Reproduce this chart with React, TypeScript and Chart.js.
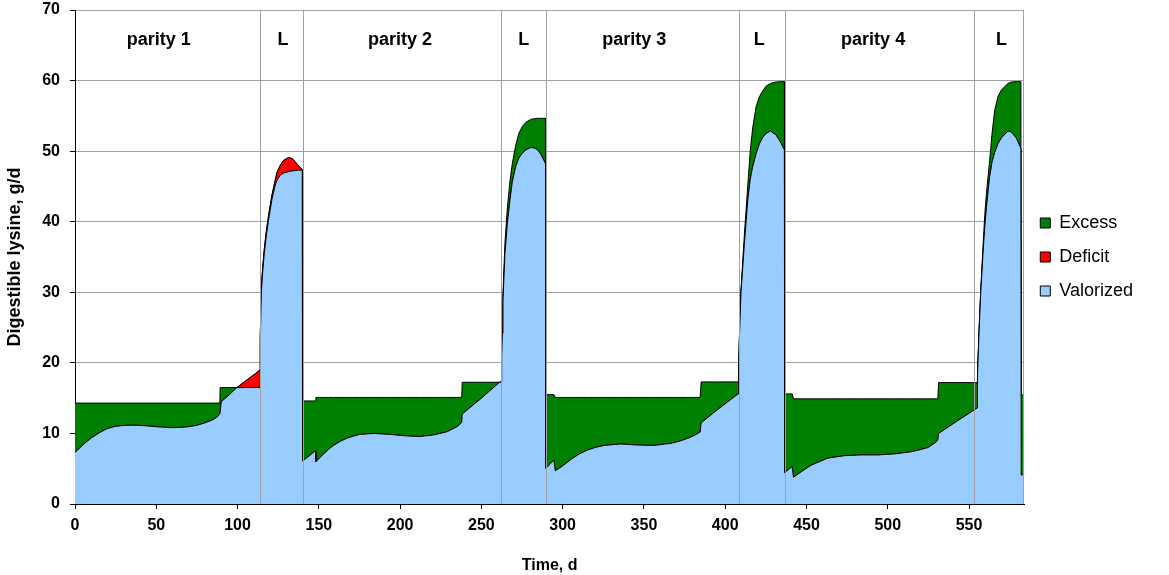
import React, { useEffect, useRef } from 'react';
import { Chart, registerables } from 'chart.js';

Chart.register(...registerables);

// Time axis (days) shared by all three stacked series
const days = [
  0, 5, 10, 15, 20, 25, 30, 35, 40, 45, 50, 55, 60, 65, 70, 75, 80, 85, 88, 89.1, 89.3, 90, 95, 99.6, 105, 110, 113.9,
  114.0, 114.6, 115.5, 116.5, 117.7, 119.1, 121.2, 123.2, 124.3, 126.3, 128.4, 131.4, 133.5, 135.5, 137.5, 139.8,
  140.0, 144.0, 147.9, 148.2, 150.5, 153, 156, 159, 163, 167, 171, 175, 184, 194, 204, 212, 221, 229, 235, 237.9, 238.2, 250, 261.2, 262.2,
  262.4, 262.6, 262.9, 263.3, 264.5, 266.0, 267.6, 269.0, 271.1, 273.0, 275.2, 277.5, 280.3, 282.5, 284.5, 286.5, 288.0, 289.5,
  289.7, 292, 294.6, 295.5, 300, 305, 310, 315.3, 320, 325.5, 335.8, 346, 356.3, 366.6, 372, 376.9, 381, 384.6, 385.2, 396, 407.9,
  408.2, 408.8, 409.7, 411.8, 413.9, 415.4, 416.9, 419.0, 421.0, 423.0, 425.1, 427.8, 431.3, 434.4, 436.4,
  436.6, 439, 441.2, 442.0, 447, 452.9, 458, 463.1, 473.4, 483.7, 494, 504.2, 514.5, 520, 524.8, 529.9, 530.8, 531.3, 543, 555.0,
  555.2, 556.2, 557.2, 558.6, 559.7, 560.7, 562.7, 564.2, 565.8, 567.9, 570.0, 574.0, 576.1, 579.2, 581.9,
  582.1, 584,
];

const valorized = [
  7.3, 8.4, 9.35, 10.1, 10.7, 11.0, 11.12, 11.17, 11.13, 11.05, 10.95, 10.87, 10.82, 10.85, 10.95, 11.15, 11.5, 11.95, 12.45, 12.8, 13.0, 14.5, 15.5, 16.5, 16.5, 16.5, 16.5,
  23.0, 29.9, 33.0, 35.6, 38.0, 40.3, 43.2, 45.2, 45.9, 46.6, 46.9, 47.1, 47.2, 47.25, 47.3, 47.3,
  6.1, 6.8, 7.55, 5.95, 6.55, 7.1, 7.75, 8.3, 8.85, 9.3, 9.6, 9.85, 10.0, 9.85, 9.65, 9.55, 9.8, 10.25, 10.95, 11.55, 12.75, 15.0, 17.25, 17.3,
  17.6, 21.0, 24.2, 28.9, 35.5, 39.8, 43.1, 45.6, 47.8, 49.0, 49.7, 50.2, 50.5, 50.45, 50.2, 49.6, 48.9, 48.2,
  5.05, 5.6, 6.2, 4.7, 5.4, 6.3, 7.05, 7.65, 8.0, 8.3, 8.5, 8.35, 8.3, 8.6, 8.9, 9.3, 9.7, 10.2, 11.5, 13.5, 15.6,
  17.5, 24.0, 29.9, 36.9, 43.1, 46.0, 47.8, 49.6, 51.0, 51.9, 52.5, 52.85, 52.3, 51.1, 50.2,
  4.45, 4.9, 5.3, 3.8, 4.6, 5.5, 6.0, 6.5, 6.85, 6.95, 6.95, 7.1, 7.4, 7.7, 8.0, 8.8, 9.1, 10.0, 11.8, 13.6,
  18.0, 24.5, 29.9, 35.5, 39.3, 42.0, 46.4, 48.5, 49.8, 51.1, 51.9, 52.85, 52.7, 51.8, 50.4,
  4.1, 4.2,
];

const deficit = [
  0, 0, 0, 0, 0, 0, 0, 0, 0, 0, 0, 0, 0, 0, 0, 0, 0, 0, 0, 0, 0, 0, 0, 0, 0.95, 1.8, 2.5,
  1.0, 0.6, 0.6, 0.6, 0.6, 0.6, 0.6, 0.7, 1.1, 1.4, 1.8, 2.0, 1.75, 1.25, 0.6, 0.1,
  0, 0, 0, 0, 0, 0, 0, 0, 0, 0, 0, 0, 0, 0, 0, 0, 0, 0, 0, 0, 0, 0, 0, 0,
  0, 0, 0, 0, 0, 0, 0, 0, 0, 0, 0, 0, 0, 0, 0, 0, 0, 0,
  0, 0, 0, 0, 0, 0, 0, 0, 0, 0, 0, 0, 0, 0, 0, 0, 0, 0, 0, 0, 0,
  0, 0, 0, 0, 0, 0, 0, 0, 0, 0, 0, 0, 0, 0, 0,
  0, 0, 0, 0, 0, 0, 0, 0, 0, 0, 0, 0, 0, 0, 0, 0, 0, 0, 0, 0,
  0, 0, 0, 0, 0, 0, 0, 0, 0, 0, 0, 0, 0, 0, 0,
  0, 0,
];

const excess = [
  7.0, 5.9, 4.95, 4.2, 3.6, 3.3, 3.18, 3.13, 3.17, 3.25, 3.35, 3.43, 3.48, 3.45, 3.35, 3.15, 2.8, 2.35, 1.85, 1.5, 3.5, 2.0, 1.0, 0, 0, 0, 0,
  0, 0, 0, 0, 0, 0, 0, 0, 0, 0, 0, 0, 0, 0, 0, 0,
  8.5, 7.8, 7.05, 9.15, 8.55, 8.0, 7.35, 6.8, 6.25, 5.8, 5.5, 5.25, 5.1, 5.25, 5.45, 5.55, 5.3, 4.85, 4.15, 3.55, 4.5, 2.25, 0, 0,
  0.1, 0.3, 0.4, 0.9, 1.5, 2.2, 2.7, 2.6, 3.0, 3.5, 3.8, 3.9, 4.0, 4.15, 4.45, 5.05, 5.75, 6.45,
  10.45, 9.9, 9.3, 10.4, 9.7, 8.8, 8.05, 7.45, 7.1, 6.8, 6.6, 6.75, 6.8, 6.5, 6.2, 5.8, 5.4, 4.9, 5.8, 3.8, 1.7,
  0.3, 0.3, 0.4, 1.3, 2.1, 4.0, 5.5, 6.7, 6.7, 6.6, 6.7, 6.75, 7.5, 8.75, 9.65,
  11.15, 10.7, 10.3, 11.1, 10.3, 9.4, 8.9, 8.4, 8.05, 7.95, 7.95, 7.8, 7.5, 7.2, 6.9, 6.1, 5.8, 7.2, 5.4, 3.6,
  0.2, 0.3, 0.4, 1.0, 1.7, 2.0, 2.3, 4.1, 6.0, 6.7, 6.8, 6.75, 7.1, 8.05, 9.45,
  11.35, 11.25,
];

const xTicks = [0, 50, 100, 150, 200, 250, 300, 350, 400, 450, 500, 550];
const yTicks = [0, 10, 20, 30, 40, 50, 60, 70];
const X_MAX = 584;

// Period boundaries (days) and header labels
const separatorDays = [114, 140, 262, 290, 408.2, 436.8, 553];
const periodLabels = ['parity 1', 'L', 'parity 2', 'L', 'parity 3', 'L', 'parity 4', 'L'];
const periodLabelDays = [51.5, 128, 200, 276, 344, 421, 491, 570];
const periodLabelValue = 65;

const FONT = '"Liberation Sans", Arial, Helvetica, sans-serif';

const overlayPlugin = {
  id: 'overlay',
  afterDatasetsDraw(chart: any) {
    const { ctx, chartArea: a, scales } = chart;
    const x = scales.x;
    const y = scales.y;
    ctx.save();
    ctx.strokeStyle = '#A0A0A0';
    ctx.lineWidth = 1;
    ctx.beginPath();
    for (const d of separatorDays) {
      const px = Math.round(x.getPixelForValue(d)) + 0.5;
      ctx.moveTo(px, a.top);
      ctx.lineTo(px, a.bottom);
    }
    const rx = Math.round(a.right) - 0.5;
    ctx.moveTo(rx, a.top);
    ctx.lineTo(rx, a.bottom);
    ctx.stroke();

    ctx.fillStyle = '#000';
    ctx.font = `bold 18px ${FONT}`;
    ctx.textAlign = 'center';
    ctx.textBaseline = 'alphabetic';
    periodLabels.forEach((t, i) => {
      ctx.fillText(t, x.getPixelForValue(periodLabelDays[i]), y.getPixelForValue(periodLabelValue));
    });
    ctx.restore();
  },
};

export default function App() {
  const canvasRef = useRef<HTMLCanvasElement | null>(null);

  useEffect(() => {
    if (!canvasRef.current) return;
    const pts = (vals: number[]) => days.map((d, i) => ({ x: d, y: vals[i] }));
    const common = {
      borderColor: '#000000',
      borderWidth: 1,
      pointRadius: 0,
      pointHoverRadius: 0,
      tension: 0,
    };
    const chart = new Chart(canvasRef.current, {
      type: 'line',
      data: {
        datasets: [
          { ...common, label: 'Valorized', data: pts(valorized), backgroundColor: '#99CCFF', fill: 'origin' },
          { ...common, label: 'Deficit', data: pts(deficit), backgroundColor: '#FF0000', fill: '-1' },
          { ...common, label: 'Excess', data: pts(excess), backgroundColor: '#008000', fill: '-1' },
        ],
      },
      options: {
        animation: false,
        responsive: true,
        maintainAspectRatio: false,
        layout: { padding: { top: 0, right: 26, bottom: 0, left: 0 } },
        plugins: {
          tooltip: { enabled: false },
          legend: {
            position: 'right',
            fullSize: false,
            align: 'center',
            reverse: true,
            labels: {
              boxWidth: 10,
              boxHeight: 10,
              padding: 16,
              color: '#000',
              font: { family: FONT, size: 18 },
            },
          },
        },
        scales: {
          x: {
            type: 'linear',
            min: 0,
            max: X_MAX,
            afterBuildTicks: (s: any) => {
              s.ticks = xTicks.map((v) => ({ value: v }));
            },
            afterFit: (s: any) => {
              s.height = 71;
            },
            grid: { display: true, drawOnChartArea: false, drawTicks: true, tickLength: 5, tickColor: '#000' },
            border: { color: '#000', width: 1 },
            ticks: { color: '#000', font: { family: FONT, size: 16, weight: 'bold' }, padding: 7, maxRotation: 0, autoSkip: false },
            title: { display: true, text: 'Time, d', color: '#000', font: { family: FONT, size: 16, weight: 'bold' }, padding: { top: 0, bottom: 0 } },
          },
          y: {
            type: 'linear',
            stacked: true,
            min: 0,
            max: 70,
            afterBuildTicks: (s: any) => {
              s.ticks = yTicks.map((v) => ({ value: v }));
            },
            afterFit: (s: any) => {
              s.width = 75;
              s.paddingTop = 10;
              s.paddingBottom = 0;
            },
            grid: {
              color: (c: any) => (c.tick && c.tick.value === 0 ? '#000' : '#A0A0A0'),
              tickColor: '#000',
              tickLength: 5,
            },
            border: { color: '#000', width: 1 },
            ticks: { color: '#000', font: { family: FONT, size: 16, weight: 'bold' }, padding: 10 },
            title: { display: true, text: 'Digestible lysine, g/d', color: '#000', font: { family: FONT, size: 18, weight: 'bold' }, padding: { top: 4, bottom: 0 } },
          },
        },
      },
      plugins: [overlayPlugin],
    });
    return () => chart.destroy();
  }, []);

  return (
    <div style={{ position: 'fixed', left: 0, top: 0, width: '100vw', height: '100vh', background: '#fff' }}>
      <canvas ref={canvasRef} />
    </div>
  );
}
